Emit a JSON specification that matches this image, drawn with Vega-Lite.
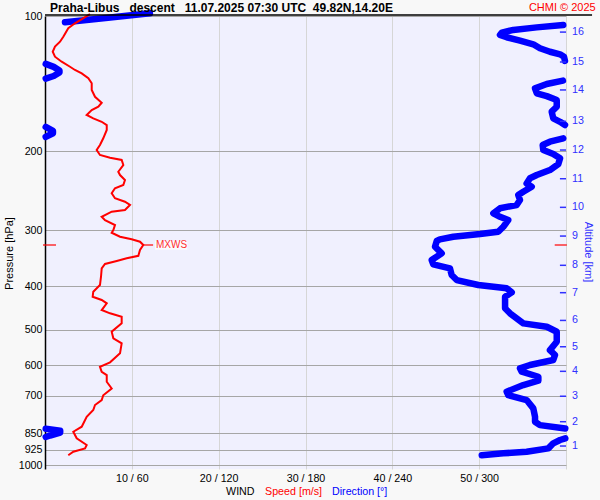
{
  "$schema": "https://vega.github.io/schema/vega-lite/v6.json",
  "width": 521,
  "height": 453,
  "autosize": "none",
  "padding": {"left": 45, "top": 16, "right": 34, "bottom": 31},
  "background": "#f8f8f8",
  "config": {"font": "Liberation Sans", "view": {"fill": "#f0f0fe", "stroke": null}},
  "datasets": {
    "speed": [
      {"p":99.0,"s":5.18},{"p":103.8,"s":3.45},{"p":106.5,"s":2.68},{"p":111.2,"s":2.11},{"p":114.1,"s":1.73},{"p":117.0,"s":1.15},{"p":120.1,"s":0.89},{"p":123.2,"s":1.15},{"p":126.4,"s":1.92},{"p":129.7,"s":2.88},{"p":131.9,"s":3.45},{"p":134.2,"s":4.23},{"p":137.6,"s":4.99},{"p":141.2,"s":5.38},{"p":146.1,"s":5.38},{"p":151.3,"s":5.76},{"p":156.0,"s":6.53},{"p":159.2,"s":6.14},{"p":161.9,"s":5.38},{"p":166.1,"s":4.80},{"p":169.0,"s":5.56},{"p":172.0,"s":6.53},{"p":174.9,"s":7.11},{"p":179.4,"s":7.11},{"p":187.2,"s":6.71},{"p":193.8,"s":6.33},{"p":198.8,"s":5.95},{"p":203.9,"s":6.33},{"p":206.8,"s":7.49},{"p":209.2,"s":8.83},{"p":214.7,"s":9.02},{"p":222.2,"s":8.44},{"p":226.0,"s":8.64},{"p":231.8,"s":9.21},{"p":237.9,"s":9.02},{"p":241.9,"s":8.06},{"p":248.2,"s":7.68},{"p":254.6,"s":8.06},{"p":259.1,"s":9.21},{"p":263.5,"s":9.79},{"p":270.4,"s":9.21},{"p":272.7,"s":7.68},{"p":279.9,"s":6.53},{"p":284.7,"s":6.91},{"p":292.0,"s":8.06},{"p":299.5,"s":7.87},{"p":303.8,"s":7.68},{"p":310.0,"s":8.64},{"p":314.2,"s":9.98},{"p":318.1,"s":10.94},{"p":323.5,"s":11.32},{"p":331.9,"s":10.94},{"p":341.9,"s":10.75},{"p":346.4,"s":9.41},{"p":351.2,"s":8.26},{"p":356.6,"s":6.91},{"p":364.6,"s":6.53},{"p":380.6,"s":6.45},{"p":397.2,"s":6.33},{"p":411.1,"s":5.56},{"p":421.7,"s":5.49},{"p":428.9,"s":6.53},{"p":436.3,"s":7.11},{"p":451.5,"s":6.53},{"p":459.2,"s":7.49},{"p":467.2,"s":8.83},{"p":483.4,"s":8.83},{"p":504.6,"s":7.68},{"p":522.0,"s":7.87},{"p":535.6,"s":8.83},{"p":563.7,"s":8.64},{"p":590.3,"s":7.49},{"p":603.8,"s":6.33},{"p":619.5,"s":6.53},{"p":630.1,"s":7.11},{"p":652.1,"s":7.11},{"p":675.0,"s":7.68},{"p":698.8,"s":6.71},{"p":716.2,"s":6.53},{"p":734.8,"s":5.76},{"p":753.9,"s":5.56},{"p":780.2,"s":4.80},{"p":821.1,"s":4.23},{"p":842.7,"s":3.26},{"p":871.6,"s":3.65},{"p":902.1,"s":4.80},{"p":917.6,"s":4.61},{"p":933.6,"s":3.26},{"p":950.5,"s":2.68}
    ],
    "dir": [
      {"seg":"A","p":98.6,"d":72.5},{"seg":"A","p":100.9,"d":43.5},{"seg":"A","p":103.2,"d":13.8},
      {"seg":"B","p":104.7,"d":358.1},{"seg":"B","p":106.0,"d":339.8},{"seg":"B","p":107.4,"d":323.6},{"seg":"B","p":108.9,"d":315.6},{"seg":"B","p":110.2,"d":314.4},{"seg":"B","p":111.5,"d":319.0},{"seg":"B","p":113.5,"d":328.2},{"seg":"B","p":115.6,"d":337.4},{"seg":"B","p":118.0,"d":342.0},{"seg":"B","p":120.1,"d":348.9},{"seg":"B","p":121.7,"d":355.9},{"seg":"B","p":123.2,"d":358.6},{"seg":"B","p":125.9,"d":359.3},
      {"seg":"C","p":127.8,"d":0.5},{"seg":"C","p":129.8,"d":6.0},{"seg":"C","p":132.2,"d":10.0},{"seg":"C","p":133.6,"d":10.0},{"seg":"C","p":136.0,"d":6.0},{"seg":"C","p":137.8,"d":0.5},
      {"seg":"D","p":139.3,"d":357.9},{"seg":"D","p":141.7,"d":346.7},{"seg":"D","p":144.9,"d":338.6},{"seg":"D","p":148.6,"d":339.8},{"seg":"D","p":150.8,"d":346.7},{"seg":"D","p":153.8,"d":353.6},{"seg":"D","p":159.2,"d":353.6},{"seg":"D","p":163.3,"d":350.1},{"seg":"D","p":169.0,"d":351.2},{"seg":"D","p":172.0,"d":355.9},{"seg":"D","p":174.9,"d":359.3},
      {"seg":"E","p":176.6,"d":0.5},{"seg":"E","p":180.2,"d":5.5},{"seg":"E","p":182.4,"d":5.5},{"seg":"E","p":185.9,"d":0.5},
      {"seg":"F","p":187.2,"d":358.1},{"seg":"F","p":190.5,"d":348.9},{"seg":"F","p":193.8,"d":343.9},{"seg":"F","p":198.8,"d":344.3},{"seg":"F","p":202.9,"d":351.2},{"seg":"F","p":207.4,"d":355.9},{"seg":"F","p":213.6,"d":354.7},{"seg":"F","p":220.3,"d":348.9},{"seg":"F","p":226.0,"d":339.8},{"seg":"F","p":229.8,"d":335.1},{"seg":"F","p":235.9,"d":332.8},{"seg":"F","p":239.9,"d":336.3},{"seg":"F","p":246.2,"d":330.5},{"seg":"F","p":250.4,"d":327.0},{"seg":"F","p":256.9,"d":328.2},{"seg":"F","p":263.5,"d":325.9},{"seg":"F","p":268.0,"d":314.4},{"seg":"F","p":275.0,"d":309.8},{"seg":"F","p":279.9,"d":314.4},{"seg":"F","p":284.7,"d":320.1},{"seg":"F","p":294.5,"d":316.7},{"seg":"F","p":302.2,"d":313.2},{"seg":"F","p":305.8,"d":300.6},{"seg":"F","p":310.0,"d":282.1},{"seg":"F","p":314.2,"d":272.9},{"seg":"F","p":316.9,"d":270.7},{"seg":"F","p":326.4,"d":269.5},{"seg":"F","p":337.6,"d":274.1},{"seg":"F","p":349.4,"d":267.2},{"seg":"F","p":357.2,"d":268.3},{"seg":"F","p":364.6,"d":279.8},{"seg":"F","p":377.3,"d":281.0},{"seg":"F","p":387.2,"d":284.5},{"seg":"F","p":397.2,"d":299.4},{"seg":"F","p":404.0,"d":319.0},{"seg":"F","p":412.4,"d":322.5},{"seg":"F","p":421.7,"d":317.9},{"seg":"F","p":447.6,"d":317.9},{"seg":"F","p":459.2,"d":321.3},{"seg":"F","p":471.1,"d":325.9},{"seg":"F","p":483.4,"d":330.5},{"seg":"F","p":491.9,"d":346.7},{"seg":"F","p":504.6,"d":353.6},{"seg":"F","p":531.2,"d":353.6},{"seg":"F","p":554.4,"d":348.9},{"seg":"F","p":568.6,"d":352.4},{"seg":"F","p":583.4,"d":351.2},{"seg":"F","p":598.5,"d":335.1},{"seg":"F","p":608.8,"d":328.2},{"seg":"F","p":619.5,"d":329.4},{"seg":"F","p":635.6,"d":340.9},{"seg":"F","p":648.8,"d":340.9},{"seg":"F","p":663.3,"d":330.5},{"seg":"F","p":686.1,"d":319.0},{"seg":"F","p":698.8,"d":320.1},{"seg":"F","p":716.2,"d":332.8},{"seg":"F","p":747.4,"d":337.4},{"seg":"F","p":780.2,"d":338.6},{"seg":"F","p":800.4,"d":338.6},{"seg":"F","p":814.5,"d":342.0},{"seg":"F","p":828.4,"d":359.5},
      {"seg":"G","p":829.7,"d":0.5},{"seg":"G","p":838.0,"d":10.5},{"seg":"G","p":846.0,"d":10.5},{"seg":"G","p":859.2,"d":3.5},{"seg":"G","p":865.8,"d":0.5},
      {"seg":"H","p":871.6,"d":359.5},{"seg":"H","p":879.2,"d":355.9},{"seg":"H","p":894.3,"d":351.2},{"seg":"H","p":917.6,"d":347.8},{"seg":"H","p":933.6,"d":332.8},{"seg":"H","p":941.3,"d":316.7},{"seg":"H","p":950.5,"d":301.8}
    ],
    "alt": [
      {"km":16,"p":108.6},{"km":15,"p":126.6},{"km":14,"p":146.1},{"km":13,"p":171.6},{"km":12,"p":198.8},{"km":11,"p":230.3},{"km":10,"p":266.7},{"km":9,"p":309.0},{"km":8,"p":359.0},{"km":7,"p":413.1},{"km":6,"p":476.2},{"km":5,"p":545.0},{"km":4,"p":618.2},{"km":3,"p":702.4},{"km":2,"p":800.4},{"km":1,"p":906.7}
    ],
    "mx": [{"p":323.5,"s":11.32,"label":"MXWS"}]
  },
  "resolve": {"scale": {"x": "independent"}},
  "layer": [
    {
      "data": {"name": "dir"},
      "mark": {"type": "line", "color": "#0000ff", "strokeWidth": 6.5, "strokeCap": "round", "strokeJoin": "round"},
      "encoding": {
        "x": {"field": "d", "type": "quantitative", "scale": {"domain": [0, 360], "nice": false, "zero": false}, "axis": null},
        "y": {"field": "p", "type": "quantitative", "scale": {"type": "log", "domain": [100, 1020], "reverse": true, "nice": false},
          "axis": {"values": [100, 200, 300, 400, 500, 600, 700, 850, 925, 1000], "format": "d", "grid": true, "gridColor": "#a6a6a6", "ticks": false, "domainColor": "#000000", "domainWidth": 1.5, "labelFontSize": 10.7, "labelColor": "#000000", "labelPadding": 3, "labelFlush": false, "labelOverlap": false,
            "title": "Pressure [hPa]", "titleFontSize": 11, "titleFontWeight": "normal", "titleColor": "#000000", "titleAngle": -90, "titleX": -33, "titleY": 237, "titleAlign": "center", "titleBaseline": "alphabetic"}},
        "detail": {"field": "seg"},
        "order": {"field": "p", "type": "quantitative"}
      }
    },
    {
      "data": {"name": "speed"},
      "mark": {"type": "line", "color": "#ff0000", "strokeWidth": 2},
      "encoding": {
        "x": {"field": "s", "type": "quantitative", "scale": {"domain": [0, 60], "nice": false, "zero": false},
          "axis": {"values": [10, 20, 30, 40, 50, 60], "labelExpr": "datum.value < 60 ? datum.value + ' / ' + datum.value * 6 : ''", "grid": true, "gridColor": "#d6d6d6", "ticks": false, "domain": false, "labelFontSize": 10.7, "labelColor": "#000000", "labelPadding": 4, "labelFlush": false, "labelOverlap": false, "title": null}},
        "y": {"field": "p", "type": "quantitative", "scale": {"type": "log", "domain": [100, 1020], "reverse": true, "nice": false}},
        "order": {"field": "p", "type": "quantitative"}
      }
    },
    {
      "data": {"name": "alt"},
      "mark": {"type": "rule", "color": "#3030ff", "strokeWidth": 1.5},
      "encoding": {
        "x": {"datum": 59.3, "type": "quantitative", "scale": {"domain": [0, 60], "nice": false, "zero": false}, "axis": null},
        "x2": {"datum": 60},
        "y": {"field": "p", "type": "quantitative", "scale": {"type": "log", "domain": [100, 1020], "reverse": true, "nice": false}}
      }
    },
    {
      "data": {"name": "alt"},
      "mark": {"type": "text", "color": "#3030ff", "fontSize": 10.7, "align": "left", "baseline": "middle", "dx": 6},
      "encoding": {
        "x": {"datum": 60, "type": "quantitative", "scale": {"domain": [0, 60], "nice": false, "zero": false}, "axis": null},
        "y": {"field": "p", "type": "quantitative", "scale": {"type": "log", "domain": [100, 1020], "reverse": true, "nice": false}},
        "text": {"field": "km"}
      }
    },
    {
      "data": {"name": "mx"},
      "mark": {"type": "rule", "color": "#ff0000", "strokeWidth": 1.2},
      "encoding": {
        "x": {"field": "s", "type": "quantitative", "scale": {"domain": [0, 60], "nice": false, "zero": false}, "axis": null},
        "x2": {"datum": 12.45},
        "y": {"field": "p", "type": "quantitative", "scale": {"type": "log", "domain": [100, 1020], "reverse": true, "nice": false}}
      }
    },
    {
      "data": {"name": "mx"},
      "mark": {"type": "rule", "color": "#ff0000", "strokeWidth": 1.2},
      "encoding": {
        "x": {"datum": -0.23, "type": "quantitative", "scale": {"domain": [0, 60], "nice": false, "zero": false}, "axis": null},
        "x2": {"datum": 1.27},
        "y": {"field": "p", "type": "quantitative", "scale": {"type": "log", "domain": [100, 1020], "reverse": true, "nice": false}}
      }
    },
    {
      "data": {"name": "mx"},
      "mark": {"type": "rule", "color": "#ff0000", "strokeWidth": 1.2},
      "encoding": {
        "x": {"datum": 58.7, "type": "quantitative", "scale": {"domain": [0, 60], "nice": false, "zero": false}, "axis": null},
        "x2": {"datum": 60.1},
        "y": {"field": "p", "type": "quantitative", "scale": {"type": "log", "domain": [100, 1020], "reverse": true, "nice": false}}
      }
    },
    {
      "data": {"values": [{}]},
      "mark": {"type": "rect", "color": "#fbfbff"},
      "encoding": {
        "x": {"datum": 12.67, "type": "quantitative", "scale": {"domain": [0, 60], "nice": false, "zero": false}, "axis": null},
        "x2": {"datum": 16.4},
        "y": {"datum": 316.8, "type": "quantitative", "scale": {"type": "log", "domain": [100, 1020], "reverse": true, "nice": false}},
        "y2": {"datum": 331.5}
      }
    },
    {
      "data": {"name": "mx"},
      "mark": {"type": "text", "color": "#ff3030", "fontSize": 10, "align": "left", "baseline": "middle"},
      "encoding": {
        "x": {"datum": 12.78, "type": "quantitative", "scale": {"domain": [0, 60], "nice": false, "zero": false}, "axis": null},
        "y": {"field": "p", "type": "quantitative", "scale": {"type": "log", "domain": [100, 1020], "reverse": true, "nice": false}},
        "text": {"field": "label"}
      }
    },
    {
      "data": {"values": [{}]},
      "mark": {"type": "rule", "color": "#000000", "strokeWidth": 1.5},
      "encoding": {
        "x": {"datum": 0, "type": "quantitative", "scale": {"domain": [0, 60], "nice": false, "zero": false}, "axis": null},
        "x2": {"datum": 63},
        "y": {"datum": 99.49, "type": "quantitative", "scale": {"type": "log", "domain": [100, 1020], "reverse": true, "nice": false}}
      }
    },
    {
      "data": {"values": [{"t": "Praha-Libus\u00a0\u00a0\u00a0descent\u00a0\u00a0\u00a011.07.2025 07:30 UTC\u00a0\u00a049.82N,14.20E"}]},
      "mark": {"type": "text", "color": "#000000", "fontSize": 12, "fontWeight": "bold", "align": "left", "baseline": "alphabetic"},
      "encoding": {
        "x": {"datum": 0.58, "type": "quantitative", "scale": {"domain": [0, 60], "nice": false, "zero": false}, "axis": null},
        "y": {"datum": 97.9, "type": "quantitative", "scale": {"type": "log", "domain": [100, 1020], "reverse": true, "nice": false}},
        "text": {"field": "t"}
      }
    },
    {
      "data": {"values": [{"t": "CHMI © 2025"}]},
      "mark": {"type": "text", "color": "#ff0000", "fontSize": 11, "align": "right", "baseline": "alphabetic"},
      "encoding": {
        "x": {"datum": 63.42, "type": "quantitative", "scale": {"domain": [0, 60], "nice": false, "zero": false}, "axis": null},
        "y": {"datum": 97.3, "type": "quantitative", "scale": {"type": "log", "domain": [100, 1020], "reverse": true, "nice": false}},
        "text": {"field": "t"}
      }
    },
    {
      "data": {"values": [{"t": "Altitude [km]"}]},
      "mark": {"type": "text", "color": "#3030ff", "fontSize": 11, "align": "center", "baseline": "middle", "angle": 90},
      "encoding": {
        "x": {"datum": 62.54, "type": "quantitative", "scale": {"domain": [0, 60], "nice": false, "zero": false}, "axis": null},
        "y": {"datum": 335.3, "type": "quantitative", "scale": {"type": "log", "domain": [100, 1020], "reverse": true, "nice": false}},
        "text": {"field": "t"}
      }
    },
    {
      "data": {"values": [{"t": "WIND"}]},
      "mark": {"type": "text", "color": "#000000", "fontSize": 10.7, "align": "left", "baseline": "alphabetic"},
      "encoding": {
        "x": {"datum": 20.85, "type": "quantitative", "scale": {"domain": [0, 60], "nice": false, "zero": false}, "axis": null},
        "y": {"datum": 1167.6, "type": "quantitative", "scale": {"type": "log", "domain": [100, 1020], "reverse": true, "nice": false}},
        "text": {"field": "t"}
      }
    },
    {
      "data": {"values": [{"t": "Speed [m/s]"}]},
      "mark": {"type": "text", "color": "#ff0000", "fontSize": 10.7, "align": "left", "baseline": "alphabetic"},
      "encoding": {
        "x": {"datum": 25.34, "type": "quantitative", "scale": {"domain": [0, 60], "nice": false, "zero": false}, "axis": null},
        "y": {"datum": 1167.6, "type": "quantitative", "scale": {"type": "log", "domain": [100, 1020], "reverse": true, "nice": false}},
        "text": {"field": "t"}
      }
    },
    {
      "data": {"values": [{"t": "Direction [°]"}]},
      "mark": {"type": "text", "color": "#0000ff", "fontSize": 10.7, "align": "left", "baseline": "alphabetic"},
      "encoding": {
        "x": {"datum": 33.05, "type": "quantitative", "scale": {"domain": [0, 60], "nice": false, "zero": false}, "axis": null},
        "y": {"datum": 1167.6, "type": "quantitative", "scale": {"type": "log", "domain": [100, 1020], "reverse": true, "nice": false}},
        "text": {"field": "t"}
      }
    }
  ]
}
